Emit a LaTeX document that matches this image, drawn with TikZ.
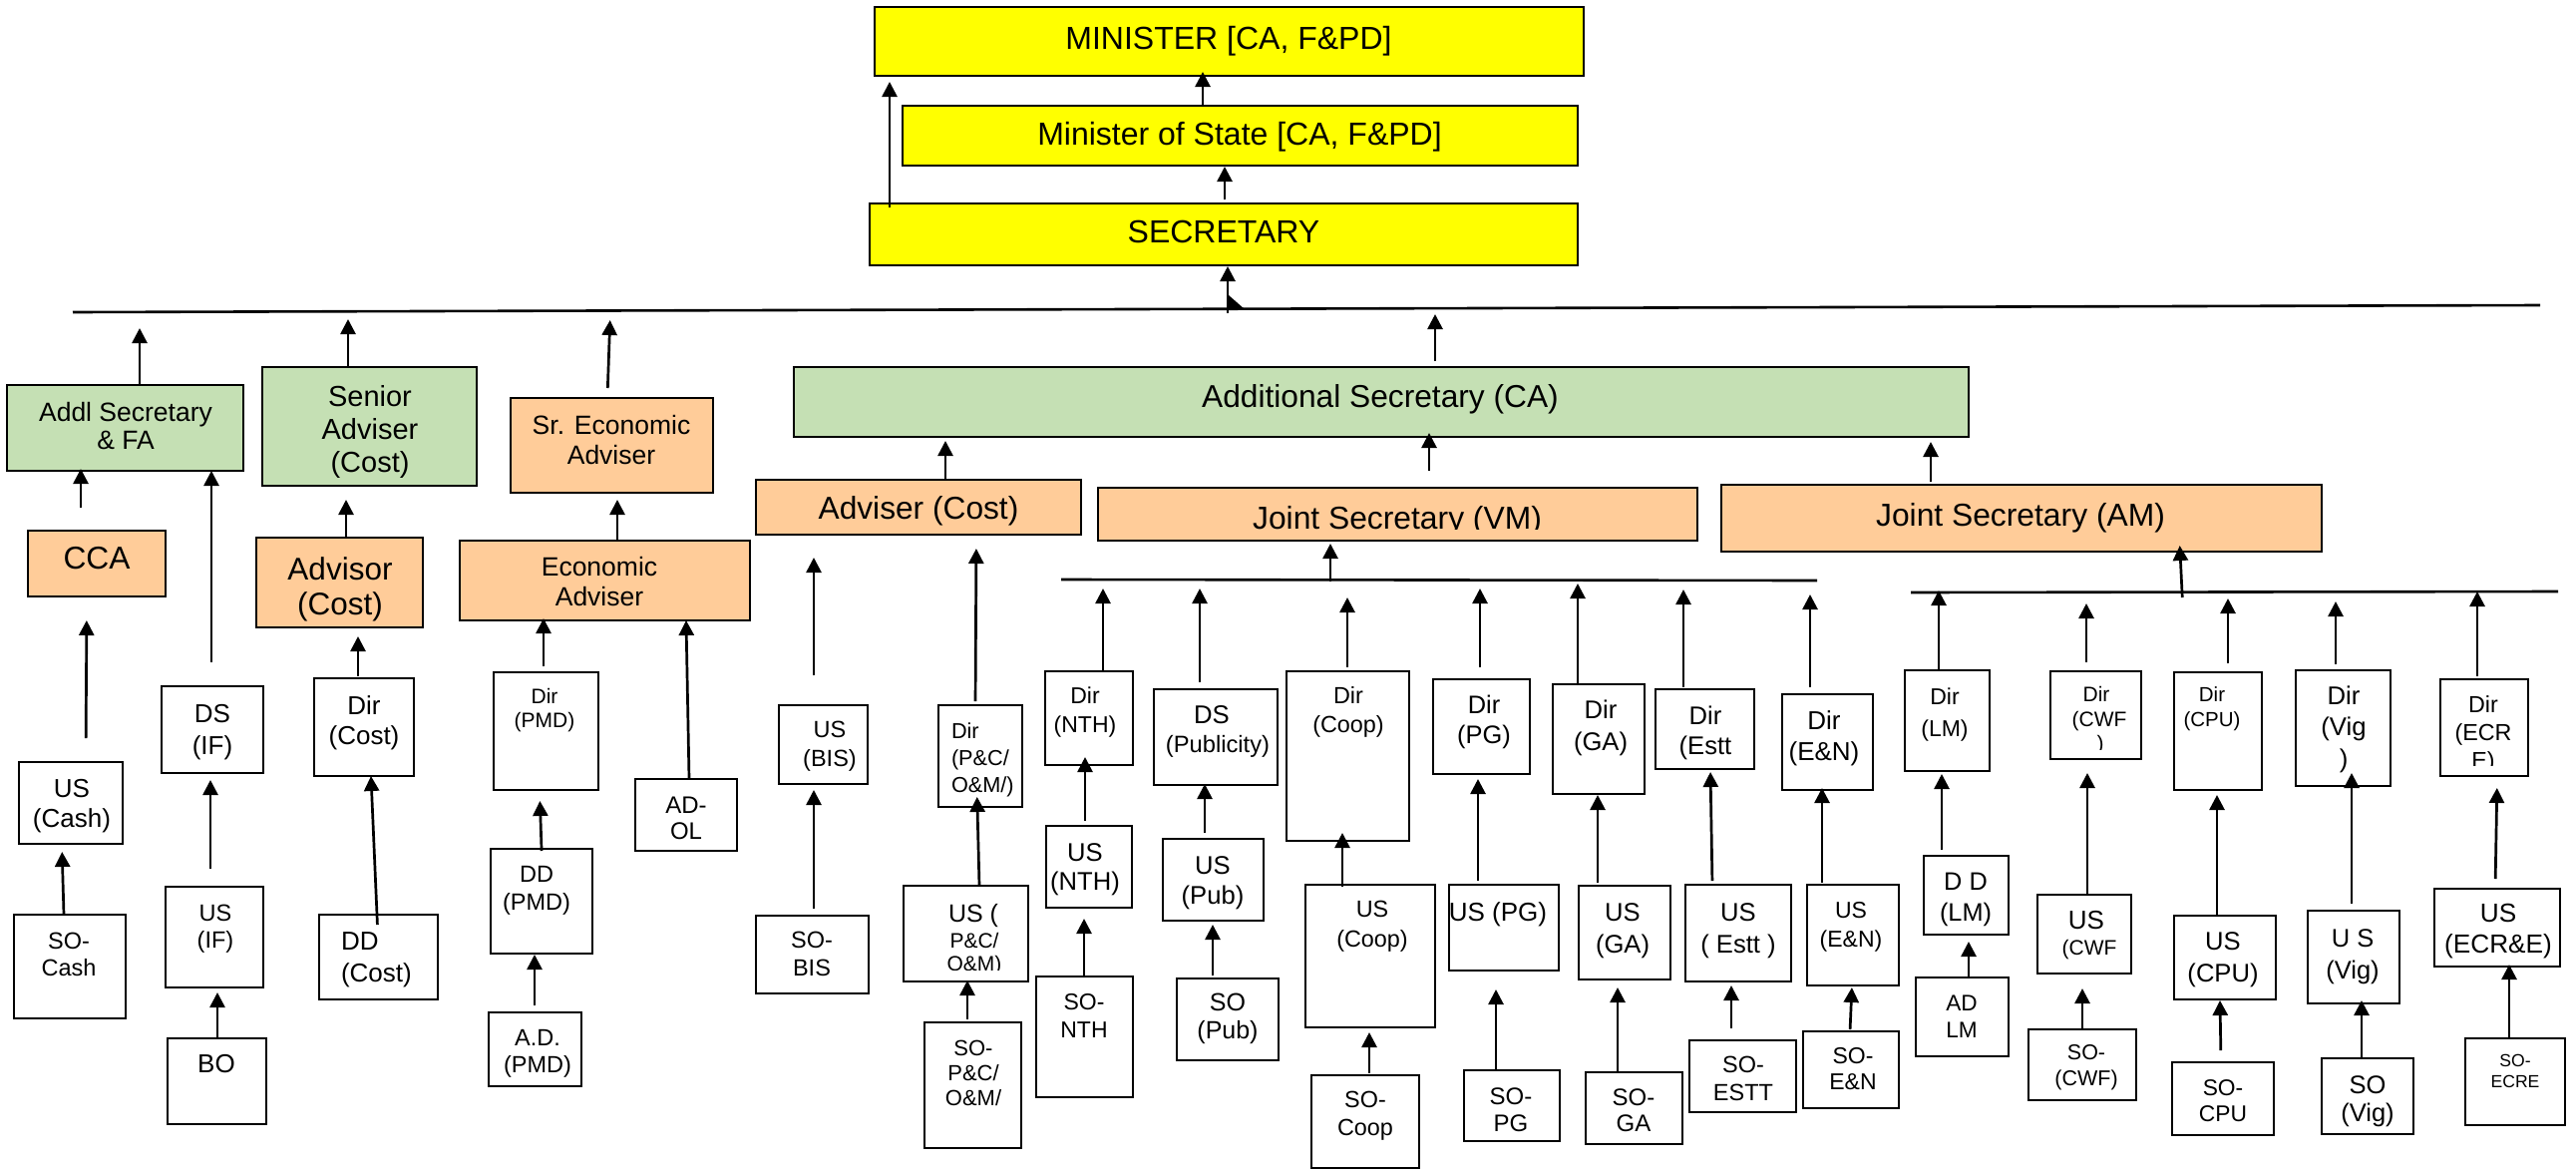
\documentclass[tikz,border=0pt]{standalone}
\usepackage{fontspec}
\setmainfont{Liberation Sans}
\usetikzlibrary{arrows.meta}
\definecolor{ylwc}{RGB}{255,255,0}
\definecolor{grnc}{RGB}{197,224,180}
\definecolor{orgc}{RGB}{255,204,153}
\tikzset{
 boxbase/.style={draw=black, line width=2.5pt, inner sep=0pt, outer sep=0pt},
 yelbox/.style={boxbase, fill=ylwc},
 grbox/.style={boxbase, fill=grnc},
 orbox/.style={boxbase, fill=orgc},
 whbox/.style={boxbase, fill=white},
 txt/.style={align=center, inner sep=0pt, outer sep=0pt},
 fs/.style 2 args={font=\fontsize{#1}{#2}\selectfont},
 arr/.style={-{Triangle[length=15pt,width=15pt]}, line width=2.7pt},
 busline/.style={line width=2.6pt},
}
\newcommand\obx[9]{%
 \node[#6, minimum width={(#4-#2)*1pt}, minimum height={(#5-#3)*1pt}] (#1) at ({(#2+#4)/2},{(#3+#5)/2}) {};
 \node[txt,#7] (#1T) at (#8) {#9};}
\newcommand\cnx[6]{\draw[arr,shorten <=#3pt,shorten >=#6pt] (#2,0 |- #1.north) -- (#5,0 |- #4.south);}
\newcommand\cbx[6]{\draw[arr,shorten <=#3pt,shorten >=#6pt] (#2,0 |- #1.north) -- (#5,0 |- #4);}
\begin{document}
\begin{tikzpicture}[x=1pt,y=-1pt]
\useasboundingbox (0,0) rectangle (2583,1173);
% ---------- top
\obx{min}{877}{7}{1588}{76}{yelbox}{fs={32}{38}}{1232,41}{MINISTER [CA, F\&PD]}
\obx{mos}{905}{106}{1582}{166}{yelbox}{fs={32}{38}}{1243,137}{Minister of State [CA, F\&PD]}
\obx{sec}{872}{204}{1582}{266}{yelbox}{fs={32}{38}}{1227,232}{SECRETARY}
% ---------- second level
\obx{addl}{7}{386}{244}{472}{grbox}{fs={26.5}{28}}{126,427}{Addl Secretary\\\& FA}
\obx{senior}{263}{368}{478}{487}{grbox}{fs={29}{33}}{371,433}{Senior\\Adviser\\(Cost)}
\obx{srecon}{512}{399}{715}{494}{orbox}{fs={26.5}{30}}{613,441}{Sr. Economic\\Adviser}
\obx{asca}{796}{368}{1974}{438}{grbox}{fs={31.7}{36}}{1384,400}{Additional Secretary (CA)}
\obx{cca}{28}{532}{166}{598}{orbox}{fs={31.7}{36}}{97,560}{CCA}
\obx{advisor}{257}{539}{424}{629}{orbox}{fs={31.5}{35}}{341,591}{Advisor\\(Cost)}
\obx{econ}{461}{542}{752}{622}{orbox}{fs={26.5}{30}}{601,583}{Economic\\Adviser}
\obx{advcost}{758}{481}{1084}{536}{orbox}{fs={31.7}{36}}{921,512}{Adviser (Cost)}
\obx{jsvm}{1101}{489}{1702}{542}{orbox}{}{1401,515}{}
\begin{scope}
\clip (1101,489) rectangle (1702,530);
\node[txt,fs={31.8}{36},anchor=base] (jsvmL) at (1401,530) {Joint Secretary (VM)};
\end{scope}
\obx{jsam}{1726}{486}{2328}{553}{orbox}{fs={31.8}{36}}{2026,519}{Joint Secretary (AM)}
% ---------- left lower
\obx{uscash}{19}{764}{123}{846}{whbox}{fs={26}{30}}{72,808}{US\\(Cash)}
\obx{socash}{14}{917}{126}{1021}{whbox}{fs={23.5}{27}}{69,957}{SO-\\Cash}
\obx{dsif}{162}{688}{264}{775}{whbox}{fs={26}{32}}{213,734}{DS\\(IF)}
\obx{usif}{166}{889}{264}{990}{whbox}{fs={23.5}{27}}{216,931}{US\\(IF)}
\obx{bo}{168}{1041}{267}{1127}{whbox}{fs={26}{30}}{217,1067}{BO}
\obx{dircost}{315}{680}{415}{778}{whbox}{fs={26}{30}}{365,725}{Dir\\(Cost)}
\obx{ddcost}{320}{917}{439}{1002}{whbox}{fs={26}{32},align=left,anchor=west}{342,962}{DD\\(Cost)}
\obx{dirpmd}{495}{674}{600}{792}{whbox}{fs={21}{24}}{546,712}{Dir\\(PMD)}
\obx{ddpmd}{492}{851}{594}{956}{whbox}{fs={23.5}{28}}{538,893}{DD\\(PMD)}
\obx{adpmd}{490}{1015}{583}{1089}{whbox}{fs={23.5}{27}}{539,1056}{A.D.\\(PMD)}
\obx{adol}{637}{781}{739}{853}{whbox}{fs={24}{26}}{688,820}{AD-\\OL}
% ---------- middle
\obx{usbis}{781}{707}{870}{786}{whbox}{fs={23.5}{29}}{832,748}{US\\(BIS)}
\obx{sobis}{758}{918}{871}{996}{whbox}{fs={23.5}{28}}{814,956}{SO-\\BIS}
\obx{dirpc}{941}{707}{1025}{809}{whbox}{fs={21.7}{27},align=left,anchor=west}{954,762}{Dir\\(P\&C/\\O\&M/)}
\obx{uspc}{906}{888}{1031}{984}{whbox}{}{968,930}{}
\begin{scope}
\clip (906,888) rectangle (1031,972);
\node[txt,fs={25}{28}] (uspcA) at (976,918) {US (};
\node[txt,fs={21}{24}] (uspcB) at (977,943) {P\&C/};
\node[txt,fs={21}{24}] (uspcC) at (977,968) {O\&M)};
\end{scope}
\obx{sopc}{927}{1025}{1024}{1151}{whbox}{fs={22}{25}}{976,1076}{SO-\\P\&C/\\O\&M/}
\obx{dirnth}{1048}{673}{1136}{767}{whbox}{fs={23}{29}}{1088,714}{Dir\\(NTH)}
\obx{usnth}{1049}{828}{1135}{910}{whbox}{fs={25.6}{29}}{1088,872}{US\\(NTH)}
\obx{sonth}{1039}{979}{1136}{1100}{whbox}{fs={23}{28}}{1087,1018}{SO-\\NTH}
\obx{dspub}{1157}{691}{1281}{787}{whbox}{fs={25.7}{30}}{1215,717}{DS}
\node[txt,fs={23.7}{28}] (dspubU) at (1221,748) {(Publicity)};
\obx{uspub}{1166}{841}{1267}{923}{whbox}{fs={25.6}{30}}{1216,885}{US\\(Pub)}
\obx{sopub}{1180}{981}{1282}{1063}{whbox}{fs={25}{28}}{1231,1021}{SO\\(Pub)}
\obx{dircoop}{1290}{673}{1413}{843}{whbox}{fs={23.4}{29}}{1352,714}{Dir\\(Coop)}
\obx{uscoop}{1309}{887}{1439}{1030}{whbox}{fs={23.4}{30}}{1376,929}{US\\(Coop)}
\obx{socoop}{1315}{1078}{1423}{1171}{whbox}{fs={23.4}{28}}{1369,1119}{SO-\\Coop}
\obx{dirpg}{1437}{681}{1534}{776}{whbox}{fs={25.4}{30}}{1488,724}{Dir\\(PG)}
\obx{uspg}{1453}{887}{1563}{973}{whbox}{fs={26}{30}}{1502,917}{US (PG)}
\obx{sopg}{1468}{1073}{1564}{1144}{whbox}{fs={24}{27}}{1515,1113}{SO-\\PG}
\obx{dirga}{1557}{686}{1649}{796}{whbox}{fs={25.6}{32}}{1605,730}{Dir\\(GA)}
\obx{usga}{1583}{888}{1675}{982}{whbox}{fs={25.6}{32}}{1627,933}{US\\(GA)}
\obx{soga}{1590}{1075}{1687}{1147}{whbox}{fs={24}{26}}{1638,1113}{SO-\\GA}
\obx{direstt}{1660}{691}{1759}{771}{whbox}{fs={25.6}{30}}{1710,735}{Dir\\(Estt}
\obx{usestt}{1690}{887}{1796}{984}{whbox}{fs={25.6}{32}}{1743,933}{US\\( Estt )}
\obx{soestt}{1694}{1043}{1801}{1115}{whbox}{fs={23.5}{28}}{1748,1081}{SO-\\ESTT}
\obx{diren}{1787}{696}{1878}{792}{whbox}{fs={26}{31}}{1829,740}{Dir\\(E\&N)}
\obx{usen}{1812}{887}{1904}{988}{whbox}{fs={23}{29}}{1856,929}{US\\(E\&N)}
\obx{soen}{1808}{1034}{1904}{1111}{whbox}{fs={23}{26}}{1858,1072}{SO-\\E\&N}
% ---------- right
\obx{dirlm}{1910}{672}{1995}{773}{whbox}{fs={23}{32}}{1950,717}{Dir\\(LM)}
\obx{ddlm}{1929}{858}{2014}{937}{whbox}{fs={25.3}{31}}{1971,902}{D D\\(LM)}
\obx{adlm}{1921}{980}{2014}{1059}{whbox}{fs={22.6}{27}}{1967,1019}{AD\\LM}
\obx{dircwf}{2056}{673}{2147}{761}{whbox}{}{2100,710}{}
\begin{scope}
\clip (2056,673) rectangle (2147,751);
\node[txt,fs={21}{24}] (dircwfA) at (2102,696) {Dir};
\node[txt,fs={21}{24}] (dircwfB) at (2105,723) {(CWF};
\node[txt,fs={21}{24}] (dircwfC) at (2106,747) {)};
\end{scope}
\obx{uscwf}{2043}{897}{2137}{976}{whbox}{fs={26}{30}}{2092,923}{US}
\node[txt,fs={21}{24}] (uscwfU) at (2095,952) {(CWF};
\obx{socwf}{2034}{1032}{2142}{1103}{whbox}{fs={21.5}{26}}{2092,1070}{SO-\\(CWF)}
\obx{dircpu}{2180}{674}{2268}{792}{whbox}{fs={20.5}{25}}{2218,711}{Dir\\(CPU)}
\obx{uscpu}{2180}{918}{2282}{1002}{whbox}{fs={25.6}{32}}{2229,962}{US\\(CPU)}
\obx{socpu}{2178}{1065}{2280}{1138}{whbox}{fs={22.8}{26}}{2229,1104}{SO-\\CPU}
\obx{dirvig}{2302}{672}{2397}{788}{whbox}{fs={25.7}{31.5}}{2350,731}{Dir\\(Vig\\)}
\obx{usvig}{2314}{913}{2406}{1006}{whbox}{fs={25.5}{32}}{2359,959}{U S\\(Vig)}
\obx{sovig}{2328}{1061}{2420}{1137}{whbox}{fs={25.5}{28}}{2374,1104}{SO\\(Vig)}
\obx{direcr}{2447}{681}{2535}{778}{whbox}{}{2490,730}{}
\begin{scope}
\clip (2447,681) rectangle (2535,767);
\node[txt,fs={23.3}{28}] (direcrA) at (2490,706) {Dir};
\node[txt,fs={23.3}{28}] (direcrB) at (2490,736) {(ECR};
\node[txt,fs={23.3}{28}] (direcrC) at (2490,764) {E)};
\end{scope}
\obx{usecr}{2441}{891}{2567}{969}{whbox}{fs={26.2}{31}}{2505,934}{US\\(ECR\&E)}
\obx{soecre}{2472}{1041}{2572}{1128}{whbox}{fs={17.6}{21}}{2522,1074}{SO-\\ECRE}
% ---------- bus lines
\coordinate (busL) at (73,313); \coordinate (busR) at (2547,306);
\coordinate (vmL) at (1064,581); \coordinate (vmR) at (1822,582);
\coordinate (amL) at (1916,594); \coordinate (amR) at (2565,593);
\draw[busline] (busL) -- (busR);
\draw[busline] (vmL) -- (vmR);
\draw[busline] (amL) -- (amR);
\fill (1232,296) -- (1232,310) -- (1248,310) -- cycle;
% ---------- connectors
\cnx{sec}{892}{-4}{min}{892}{6}
\cnx{mos}{1206}{0}{min}{1206}{-4}
\cnx{sec}{1228}{4}{mos}{1228}{1}
\draw[arr,shorten <=-1pt,shorten >=1pt] (1231,0 |- busL) -- (1231,0 |- sec.south);
\cbx{addl}{140}{0}{busL}{140}{16}
\cbx{senior}{349}{0}{busL}{349}{7}
\cbx{srecon}{609}{10}{busL}{612}{8}
\cbx{asca}{1439}{6}{busL}{1439}{2}
\cnx{cca}{81}{23}{addl}{81}{-2}
\cnx{dsif}{212}{24}{addl}{212}{0}
\cnx{advisor}{347}{1}{senior}{347}{14}
\cnx{econ}{619}{0}{srecon}{619}{7}
\cnx{advcost}{948}{0}{asca}{948}{4}
\cnx{jsvm}{1433}{17}{asca}{1433}{-4}
\cnx{jsam}{1936}{3}{asca}{1936}{5}
\draw[arr,shorten <=-2pt,shorten >=3pt] (1334,0 |- vmL) -- (1334,0 |- jsvm.south);
\draw[arr,shorten <=-5pt,shorten >=-6pt] (2188,0 |- amL) -- (2186,0 |- jsam.south);
% left
\cnx{uscash}{86}{24}{cca}{87}{24}
\cnx{socash}{64}{0}{uscash}{62}{8}
\cnx{usif}{211}{18}{dsif}{211}{7}
\cnx{bo}{218}{0}{usif}{218}{5}
\cnx{dircost}{359}{2}{advisor}{359}{9}
\cnx{ddcost}{378}{-10}{dircost}{372}{0}
\cnx{dirpmd}{545}{6}{econ}{545}{-2}
\cnx{ddpmd}{543}{-2}{dirpmd}{541}{11}
\cnx{adpmd}{536}{7}{ddpmd}{536}{1}
\cnx{adol}{691}{0}{econ}{688}{0}
% middle
\cnx{sobis}{816}{7}{usbis}{816}{6}
\cnx{usbis}{816}{30}{advcost}{816}{23}
\cnx{dirpc}{978}{4}{advcost}{979}{14}
\cnx{uspc}{982}{1}{dirpc}{980}{-10}
\cnx{sopc}{970}{3}{uspc}{970}{-1}
\cbx{dirnth}{1106}{0}{vmL}{1106}{9}
\cnx{usnth}{1088}{5}{dirnth}{1088}{-8}
\cnx{sonth}{1087}{1}{usnth}{1087}{11}
\cbx{dspub}{1203}{7}{vmL}{1203}{9}
\cnx{uspub}{1208}{6}{dspub}{1208}{-1}
\cnx{sopub}{1216}{3}{uspub}{1216}{4}
\cbx{dircoop}{1351}{4}{vmL}{1351}{18}
\cnx{uscoop}{1346}{-2}{dircoop}{1346}{-8}
\cnx{socoop}{1373}{2}{uscoop}{1373}{5}
\cbx{dirpg}{1484}{12}{vmL}{1484}{9}
\cnx{uspg}{1482}{4}{dirpg}{1482}{5}
\cnx{sopg}{1500}{0}{uspg}{1500}{19}
\cbx{dirga}{1582}{-1}{vmL}{1582}{4}
\cnx{usga}{1602}{3}{dirga}{1602}{1}
\cnx{soga}{1622}{1}{usga}{1622}{8}
\cbx{direstt}{1688}{2}{vmL}{1688}{10}
\cnx{usestt}{1717}{4}{direstt}{1715}{3}
\cnx{soestt}{1736}{12}{usestt}{1736}{4}
\cbx{diren}{1815}{7}{vmL}{1815}{15}
\cnx{usen}{1827}{2}{diren}{1827}{-2}
\cnx{soen}{1855}{2}{usen}{1857}{2}
% right
\cbx{dirlm}{1944}{0}{amL}{1944}{-2}
\cnx{ddlm}{1947}{6}{dirlm}{1947}{3}
\cnx{adlm}{1974}{-1}{ddlm}{1974}{7}
\cbx{dircwf}{2092}{9}{amL}{2092}{11}
\cnx{uscwf}{2093}{1}{dircwf}{2093}{14}
\cnx{socwf}{2088}{1}{uscwf}{2088}{15}
\cbx{dircpu}{2234}{9}{amL}{2234}{6}
\cnx{uscpu}{2223}{1}{dircpu}{2223}{5}
\cnx{socpu}{2227}{12}{uscpu}{2226}{1}
\cbx{dirvig}{2342}{6}{amL}{2342}{9}
\cnx{usvig}{2358}{7}{dirvig}{2358}{-13}
\cnx{sovig}{2368}{0}{usvig}{2368}{-3}
\cbx{direcr}{2484}{3}{amL}{2484}{-1}
\cnx{usecr}{2502}{10}{direcr}{2504}{12}
\cnx{soecre}{2516}{0}{usecr}{2516}{-2}
\end{tikzpicture}
\end{document}
